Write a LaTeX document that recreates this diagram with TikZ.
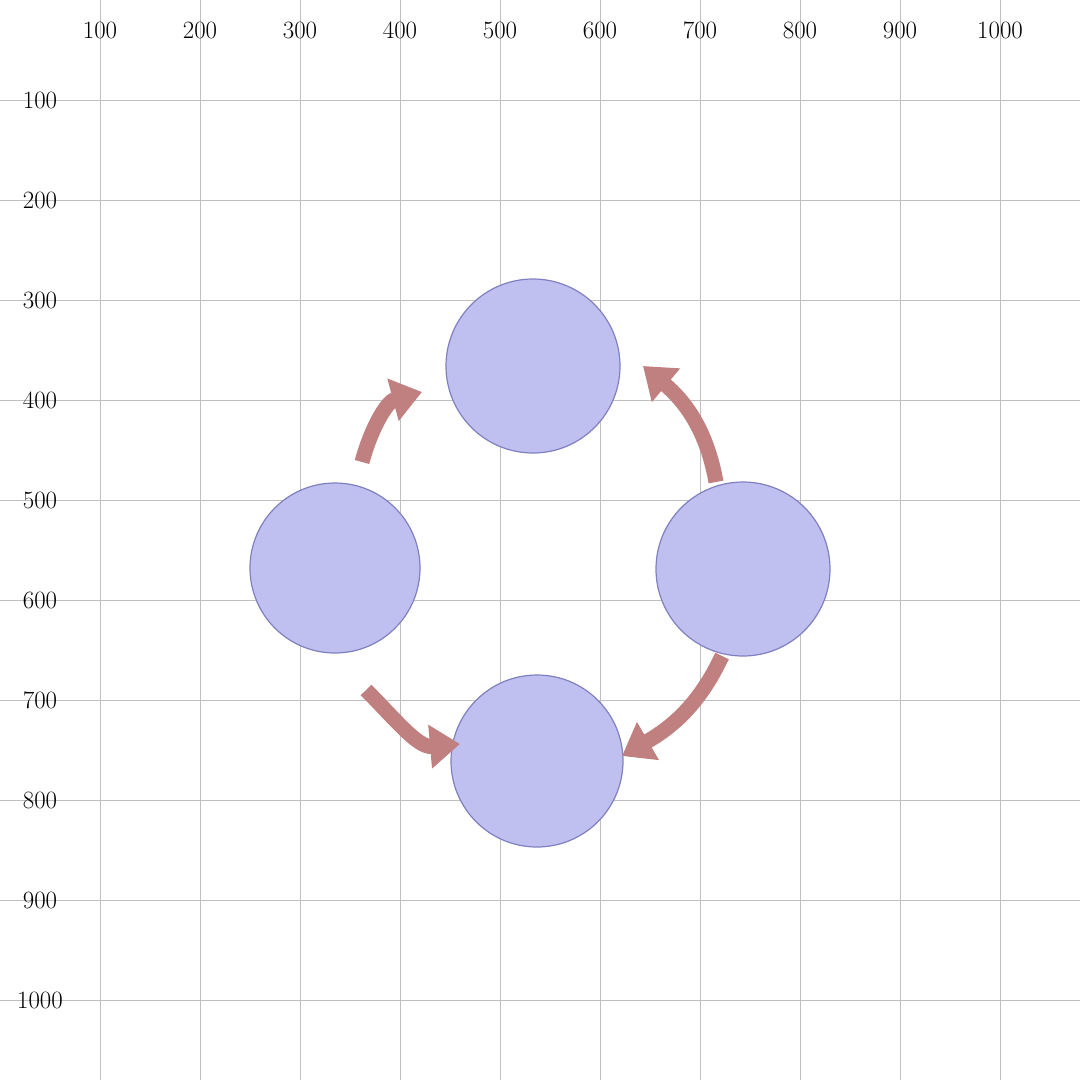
\documentclass[tikz,border=0pt]{standalone}
\usetikzlibrary{arrows.meta}
\definecolor{circfill}{HTML}{C0C0F0}
\definecolor{circline}{HTML}{8080C0}
\definecolor{arrcol}{HTML}{C08080}
\tikzset{
  blob/.style={circle, fill=circfill, draw=circline, line width=1.2pt, minimum size=174pt, inner sep=0pt},
  flow/.style={draw=arrcol, line width=15pt, -{Triangle[width=42pt,length=30pt]}}
}
\begin{document}
\begin{tikzpicture}[x=1pt,y=-1pt]
\useasboundingbox (0,0) rectangle (1080,1080);
\fill[white] (0,0) rectangle (1080,1080);
\foreach \i in {100,200,...,1000} {
  \draw[gray!50] (\i,0) -- (\i,1080);
  \draw[gray!50] (0,\i) -- (1080,\i);
  \node[font=\Huge] at (\i,30) {\i};
  \node[font=\Huge] at (40,\i) {\i};
}
\node[blob] (top) at (533,366) {};
\node[blob, minimum size=170pt] (left) at (335,568) {};
\node[blob] (right) at (743,569) {};
\node[blob, minimum size=172pt] (bottom) at (537,761) {};
\coordinate (tl1) at (362,462);
\coordinate (tl2) at (422,392);
\coordinate (tr1) at (716,482);
\coordinate (tr2) at (643,366);
\coordinate (bl1) at (366,690);
\coordinate (bl2) at (460,744);
\coordinate (br1) at (722,656);
\coordinate (br2) at (622,756);
\draw[flow] (tl1) to[out=75,in=195] (tl2);
\draw[flow] (tr1) to[out=100,in=-40] (tr2);
\draw[flow] (bl1) to[out=-45,in=185] (bl2);
\draw[flow] (br1) to[out=-115,in=30] (br2);
\end{tikzpicture}
\end{document}
